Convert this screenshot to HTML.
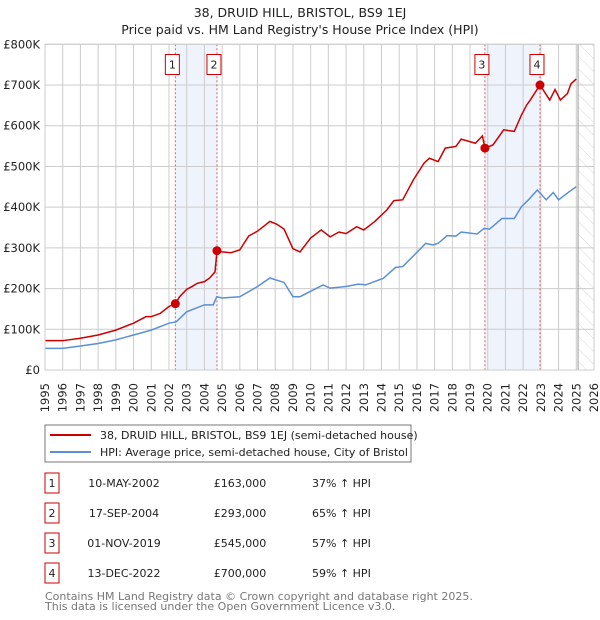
<!DOCTYPE html>
<html><head><meta charset="utf-8"><style>
body{margin:0;background:#fff;font-family:"DejaVu Sans","Liberation Sans",sans-serif;}
svg{display:block}
</style></head><body>
<svg id="c" width="600" height="620" xmlns="http://www.w3.org/2000/svg" font-family="DejaVu Sans, Liberation Sans, sans-serif">
<defs><pattern id="hatch" width="9" height="9" patternUnits="userSpaceOnUse" patternTransform="rotate(-45)"><line x1="0" y1="0" x2="0" y2="9" stroke="#d8d8d8" stroke-width="1"/></pattern></defs>
<text x="300" y="17" text-anchor="middle" font-size="12.5" fill="#222">38, DRUID HILL, BRISTOL, BS9 1EJ</text>
<text x="300" y="34" text-anchor="middle" font-size="12.5" fill="#222">Price paid vs. HM Land Registry's House Price Index (HPI)</text>
<g id="bands"></g><g id="grid"></g><g id="series"></g><g id="axes"></g>
<rect x="45" y="425" width="366" height="37" fill="#fff" stroke="#777"/>
<line x1="50" y1="435" x2="91" y2="435" stroke="#cc0000" stroke-width="2"/>
<text x="100" y="439" font-size="11" fill="#222">38, DRUID HILL, BRISTOL, BS9 1EJ (semi-detached house)</text>
<line x1="50" y1="452" x2="91" y2="452" stroke="#5b8fd6" stroke-width="2"/>
<text x="100" y="456" font-size="11" fill="#222">HPI: Average price, semi-detached house, City of Bristol</text>
<g id="table" font-size="11" fill="#222"></g>
<text x="45" y="600" font-size="11" fill="#777">Contains HM Land Registry data © Crown copyright and database right 2025.</text>
<text x="45" y="610" font-size="11" fill="#777">This data is licensed under the Open Government Licence v3.0.</text>
</svg>
<script>
const hpiYears=[1995,1996,1997,1998,1999,2000,2001,2002,2002.4,2003,2004,2004.5,2004.7,2005,2006,2007,2007.7,2008.5,2009,2009.4,2010.7,2011.1,2012,2012.7,2013.1,2014.1,2014.8,2015.2,2016.5,2016.9,2017.2,2017.7,2018.2,2018.5,2019.4,2019.8,2020.1,2020.8,2021.5,2021.9,2022.3,2022.8,2023.3,2023.7,2024.0,2024.6,2025.0];
const hpiValues=[53,53,59,65,74,86,98,115,118,143,160,160,180,177,180,205,226,215,180,180,209,201,205,211,209,225,252,254,311,307,311,330,329,339,334,348,346,372,372,401,418,442,418,436,418,438,450];
const priceYears=[1995,1996,1997,1998,1999,2000,2000.7,2001,2001.5,2002,2002.36,2002.6,2003,2003.3,2003.6,2004,2004.3,2004.6,2004.71,2005,2005.5,2006,2006.5,2007,2007.7,2008.1,2008.5,2009,2009.4,2010,2010.6,2011.1,2011.6,2012,2012.6,2013,2013.6,2014.3,2014.7,2015.2,2015.8,2016.4,2016.7,2017.2,2017.6,2018.2,2018.5,2019.3,2019.7,2019.84,2020.3,2020.9,2021.5,2021.9,2022.2,2022.4,2022.95,2023.5,2023.8,2024.1,2024.5,2024.7,2025.0];
const priceValues=[72,72,78,86,98,115,131,131,139,156,163,180,198,205,213,217,226,241,292,290,288,295,329,341,365,358,346,298,290,324,344,327,339,335,352,344,364,393,416,418,467,508,520,512,545,549,567,557,575,545,553,590,586,626,651,663,700,663,689,663,679,703,715];
const saleIds=["1","2","3","4"];
const saleYears=[2002.36,2004.71,2019.84,2022.95];
const saleValues=[163,293,545,700];
const saleDates=["10-MAY-2002","17-SEP-2004","01-NOV-2019","13-DEC-2022"];
const salePrices=["£163,000","£293,000","£545,000","£700,000"];
const saleHpi=["37% ↑ HPI","65% ↑ HPI","57% ↑ HPI","59% ↑ HPI"];
const yTicks=[0,100,200,300,400,500,600,700,800];
const yTickLabels=["£0","£100K","£200K","£300K","£400K","£500K","£600K","£700K","£800K"];
const xTicks=[1995,1996,1997,1998,1999,2000,2001,2002,2003,2004,2005,2006,2007,2008,2009,2010,2011,2012,2013,2014,2015,2016,2017,2018,2019,2020,2021,2022,2023,2024,2025,2026];
const dataEnd=2025.1;

const NS="http://www.w3.org/2000/svg";
const X0=45,X1=594,Y0=370,Y1=44.3;
const xs=y=>X0+(y-1995)/(2026-1995)*(X1-X0);
const ys=v=>Y0-v/800*(Y0-Y1);
function mk(tag,attrs,parent){const e=document.createElementNS(NS,tag);for(const k in attrs)e.setAttribute(k,attrs[k]);parent.appendChild(e);return e;}
const bands=document.getElementById('bands'),grid=document.getElementById('grid'),series=document.getElementById('series'),axes=document.getElementById('axes'),table=document.getElementById('table');

for(let i=0;i<saleYears.length;i+=2){
  const b=mk('rect',{x:xs(saleYears[i]),y:Y1,width:xs(saleYears[i+1])-xs(saleYears[i]),height:Y0-Y1,fill:'#eef3fc'},bands);
  
  
}
const h=mk('rect',{x:xs(dataEnd),y:Y1,width:X1-xs(dataEnd),height:Y0-Y1,fill:'url(#hatch)'},bands);



yTicks.forEach((t,i)=>{
  const l=mk('line',{x1:X0,x2:X1,y1:ys(t),y2:ys(t),stroke:'#ccc','stroke-width':1},grid);
  
  
  const tx=mk('text',{x:40,y:ys(t)+4,'text-anchor':'end','font-size':11.5,fill:'#222'},axes);
  tx.textContent=yTickLabels[i];
  
  
});
xTicks.forEach(t=>{
  const l=mk('line',{x1:xs(t),x2:xs(t),y1:Y1,y2:Y0,stroke:'#ccc','stroke-width':1},grid);
  
  
  const tx=mk('text',{x:0,y:0,'text-anchor':'end','font-size':11.5,fill:'#222',transform:`translate(${xs(t)+4},383) rotate(-90)`},axes);
  tx.textContent=t;
  
  
});
const el=mk('line',{x1:xs(dataEnd),x2:xs(dataEnd),y1:Y1,y2:Y0,stroke:'#999','stroke-width':1},grid);



saleYears.forEach((y,i)=>{
  const l=mk('line',{x1:xs(y),x2:xs(y),y1:Y1,y2:Y0,stroke:'#e06060','stroke-width':1,'stroke-dasharray':'2,2'},grid);
  
  
  const bx=mk('rect',{x:xs(y)-10,y:54.5,width:14,height:20,fill:'#fff',stroke:'#cc0000'},axes);
  
  
  const t=mk('text',{x:xs(y)-3,y:68.5,'text-anchor':'middle','font-size':11,fill:'#222'},axes);
  t.textContent=saleIds[i];
  
  
});

const hp=mk('polyline',{points:hpiYears.map((y,i)=>xs(y)+','+ys(hpiValues[i])).join(' '),fill:'none',stroke:'#5b8fd6','stroke-width':1.5},series);


const pp=mk('polyline',{points:priceYears.map((y,i)=>xs(y)+','+ys(priceValues[i])).join(' '),fill:'none',stroke:'#cc0000','stroke-width':1.5},series);


saleYears.forEach((y,i)=>{
  const c=mk('circle',{cx:xs(y),cy:ys(saleValues[i]),r:4.5,fill:'#cc0000'},series);
  
  
});

mk('rect',{x:X0,y:Y1,width:X1-X0,height:Y0-Y1,fill:'none',stroke:'#ccc'},axes);

saleIds.forEach((id,i)=>{
  const cy=483+i*30;
  const b=mk('rect',{x:45,y:cy-10,width:14,height:20,fill:'#fff',stroke:'#cc0000'},table);
  
  
  const vals=[[52,id,'middle'],[124,saleDates[i],'middle'],[240,salePrices[i],'middle'],[312,saleHpi[i],'start']];
  vals.forEach(v=>{
    const t=mk('text',{x:v[0],y:cy+4,'text-anchor':v[2]},table);
    t.textContent=v[1];
    
    
  });
});
</script>
</body></html>
